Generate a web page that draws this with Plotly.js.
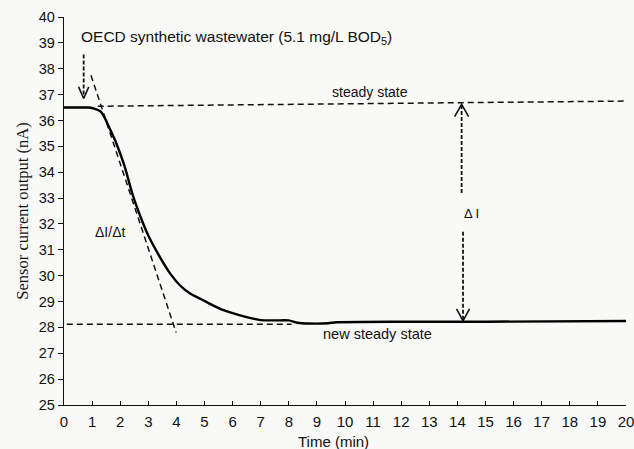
<!DOCTYPE html>
<html>
<head>
<meta charset="utf-8">
<script src="https://cdn.plot.ly/plotly-3.0.1.min.js"></script>
<style>html,body{margin:0;padding:0;background:#f9f9f7;}#chart{width:634px;height:449px;}</style>
</head>
<body>
<div id="chart"></div>
<script>
// Sensor response curve
const timeMin = [0, 0.5, 0.9, 1.1, 1.3, 1.45, 1.6, 1.85, 2.15, 2.45, 2.75, 3.0, 3.45, 3.8, 4.15, 4.5, 4.9, 5.3, 5.6, 6.0, 6.5, 7.0, 7.5, 8.0, 8.3, 8.7, 9.4, 9.7, 12, 15, 20];
const currentNA = [36.5, 36.5, 36.5, 36.45, 36.35, 36.1, 35.75, 35.15, 34.25, 33.1, 32.2, 31.55, 30.65, 30.05, 29.6, 29.3, 29.08, 28.85, 28.7, 28.55, 28.4, 28.28, 28.27, 28.27, 28.18, 28.15, 28.16, 28.2, 28.22, 28.22, 28.25];

// Guide lines
const steadyX = [1.2, 20];
const steadyY = [36.55, 36.75];
const newSteadyX = [0.1, 8.1];
const newSteadyY = [28.12, 28.12];
const tangentX = [0.96, 3.99];
const tangentY = [37.75, 27.8];

// Injection arrow (OECD)
const injShaftX = [0.7, 0.7];
const injShaftY = [38.55, 36.9];
const injHeadX = [0.52, 0.7, 0.88];
const injHeadY = [37.3, 36.85, 37.3];

// Delta I double arrow
const dUpperShaftX = [14.15, 14.15];
const dUpperShaftY = [36.6, 33.2];
const dLowerShaftX = [14.2, 14.2];
const dLowerShaftY = [31.7, 28.3];
const dTopHeadX = [13.9, 14.15, 14.4];
const dTopHeadY = [36.15, 36.62, 36.15];
const dBotHeadX = [13.97, 14.2, 14.43];
const dBotHeadY = [28.72, 28.25, 28.72];

// Ticks
const xTicks = [0,1,2,3,4,5,6,7,8,9,10,11,12,13,14,15,16,17,18,19,20];
const yTicks = [25,26,27,28,29,30,31,32,33,34,35,36,37,38,39,40];

// Labels
const labelTexts = ["OECD synthetic wastewater (5.1 mg/L BOD<sub>5</sub>)", "steady state", "new steady state", "ΔI/Δt", "Δ I"];
const labelX = [0.55, 10.9, 11.15, 1.64, 14.5];
const labelY = [39.2, 37.1, 27.75, 31.7, 32.4];
const labelAnchor = ["left", "center", "center", "center", "center"];
const labelSize = [15.5, 14, 14.5, 14, 13];

const xTitle = "Time (min)";
const yTitle = "Sensor current output (nA)";

const sans = 'Liberation Sans, Arial, sans-serif';
const dashLine = {color: '#111', width: 1.5, dash: '6px,4px'};
const arrowLine = {color: '#111', width: 1.8, dash: '4px,2px'};
const headLine = {color: '#111', width: 1.6};

function ln(x, y, line) {
  return {x: x, y: y, type: 'scatter', mode: 'lines', line: line, hoverinfo: 'skip', showlegend: false};
}

const traces = [
  ln(steadyX, steadyY, dashLine),
  ln(newSteadyX, newSteadyY, dashLine),
  ln(tangentX, tangentY, dashLine),
  ln(injShaftX, injShaftY, arrowLine),
  ln(injHeadX, injHeadY, headLine),
  ln(dUpperShaftX, dUpperShaftY, arrowLine),
  ln(dLowerShaftX, dLowerShaftY, arrowLine),
  ln(dTopHeadX, dTopHeadY, headLine),
  ln(dBotHeadX, dBotHeadY, headLine),
  ln(timeMin, currentNA, {color: '#000', width: 2.4, shape: 'spline', smoothing: 0.6})
];

const annotations = labelTexts.map((t, i) => ({
  text: t, x: labelX[i], y: labelY[i], xref: 'x', yref: 'y',
  xanchor: labelAnchor[i], yanchor: 'middle', showarrow: false,
  font: {family: sans, size: labelSize[i], color: '#111'}
}));
annotations.push({
  text: xTitle, xref: 'paper', yref: 'paper', x: 0.479, y: -0.094,
  xanchor: 'center', yanchor: 'middle', showarrow: false,
  font: {family: sans, size: 15, color: '#111'}
});

const layout = {
  width: 634, height: 449,
  margin: {l: 64, r: 8, t: 17, b: 44},
  paper_bgcolor: '#f9f9f7', plot_bgcolor: '#f9f9f7',
  showlegend: false,
  font: {family: sans, color: '#111'},
  xaxis: {
    range: [0, 20], tickvals: xTicks, ticktext: xTicks.map(String),
    showgrid: false, zeroline: false, showline: true, linecolor: '#111', linewidth: 1.2,
    ticks: 'inside', ticklen: 4, tickcolor: '#111', ticklabelstandoff: 3,
    ticklabeloverflow: 'allow', automargin: false,
    tickfont: {size: 15, family: sans, color: '#111'}
  },
  yaxis: {
    range: [25, 40], tickvals: yTicks, ticktext: yTicks.map(String),
    showgrid: false, zeroline: false, showline: true, linecolor: '#111', linewidth: 1.2,
    ticks: 'outside', ticklen: 5, tickcolor: '#111',
    tickfont: {size: 14.5, family: sans, color: '#111'},
    title: {text: yTitle, font: {size: 16.5, family: 'Liberation Serif, Times New Roman, serif', color: '#111'}, standoff: 6}
  },
  annotations: annotations
};

Plotly.newPlot('chart', traces, layout, {displayModeBar: false, staticPlot: true});
</script>
</body>
</html>
